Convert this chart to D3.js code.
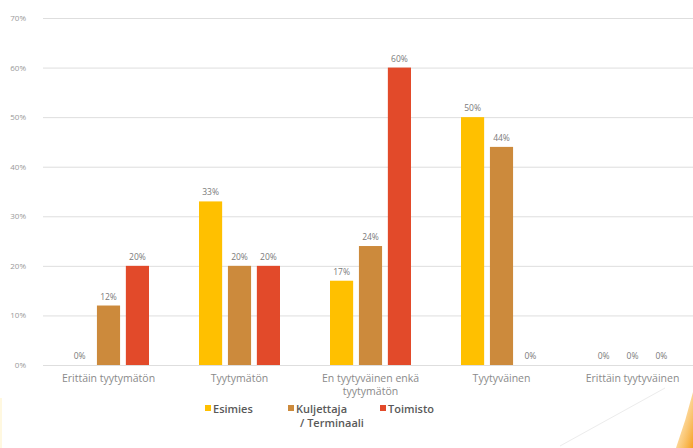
<!DOCTYPE html>
<html>
<head>
<meta charset="utf-8">
<script src="https://cdn.jsdelivr.net/npm/d3@7"></script>
<style>
  body { margin: 0; background: #fff; }
  text { font-family: "Open Sans", "Liberation Sans", sans-serif; }
</style>
</head>
<body>
<div id="chart"></div>
<script>
const categories = ["Erittäin tyytymätön", "Tyytymätön", "En tyytyväinen enkä tyytymätön", "Tyytyväinen", "Erittäin tyytyväinen"];
const seriesNames = ["Esimies", "Kuljettaja / Terminaali", "Toimisto"];
const esimies = [0, 33, 17, 50, 0];
const kuljettaja = [12, 20, 24, 44, 0];
const toimisto = [20, 20, 60, 0, 0];
const yTicks = [0, 10, 20, 30, 40, 50, 60, 70];

const colors = ["#FFC000", "#CC8A3C", "#E24A2A"];
const W = 693, H = 448;

const svg = d3.select("#chart").append("svg").attr("width", W).attr("height", H);

// corner decorations
const defs = svg.append("defs");
const grad = defs.append("linearGradient").attr("id", "og").attr("x1", "0").attr("y1", "0").attr("x2", "1").attr("y2", "1");
grad.append("stop").attr("offset", "0").attr("stop-color", "#ffd27a").attr("stop-opacity", 0.2);
grad.append("stop").attr("offset", "1").attr("stop-color", "#f5a020");
svg.append("path").attr("d", "M693,392 L693,448 L676,448 Q686,420 693,392 Z").attr("fill", "url(#og)");
svg.append("line").attr("x1", 560).attr("y1", 446).attr("x2", 665).attr("y2", 388)
  .attr("stroke", "#ececec").attr("stroke-width", 1);
svg.append("rect").attr("x", 0).attr("y", 398).attr("width", 2).attr("height", 50).attr("fill", "#fff8e0");

const x = d3.scaleBand().domain(categories).range([43, 698]);
const y = d3.scaleLinear().domain([0, 70]).range([365, 18]);
const x1 = d3.scaleBand().domain(seriesNames).range([25, 106]).paddingInner(0.2);

// gridlines
svg.append("g").selectAll("line").data(yTicks).enter().append("line")
  .attr("x1", 43).attr("x2", W)
  .attr("y1", d => y(d) + 0.5).attr("y2", d => y(d) + 0.5)
  .attr("stroke", "#dedede").attr("stroke-width", 1);

const yAxis = d3.axisLeft(y).tickValues(yTicks).tickFormat(d => d + "%").tickSize(0).tickPadding(0);
const ya = svg.append("g").attr("transform", "translate(26,0)").call(yAxis);
ya.select(".domain").remove();
ya.selectAll("text").attr("fill", "#999").style("font-size", "8px").style("font-family", "'Open Sans', sans-serif");

const rows = seriesNames.map((s, i) => ({ name: s, color: colors[i], values: [esimies, kuljettaja, toimisto][i] }));

const groups = svg.append("g").selectAll("g").data(categories).enter().append("g")
  .attr("transform", d => `translate(${x(d)},0)`);

groups.selectAll("rect").data((c, ci) => rows.map(r => ({ s: r.name, color: r.color, v: r.values[ci] })))
  .enter().append("rect")
  .attr("x", d => x1(d.s))
  .attr("width", x1.bandwidth())
  .attr("y", d => y(d.v))
  .attr("height", d => y(0) - y(d.v))
  .attr("fill", d => d.color);

groups.selectAll("text.val").data((c, ci) => rows.map(r => ({ s: r.name, v: r.values[ci] })))
  .enter().append("text").attr("class", "val")
  .attr("x", d => x1(d.s) + x1.bandwidth() / 2)
  .attr("y", d => y(d.v) - 6)
  .attr("text-anchor", "middle")
  .attr("fill", "#7a7a7a")
  .style("font-size", "8.5px")
  .text(d => d.v + "%");

// category labels with wrapping
const catLabels = svg.append("g").selectAll("text").data(categories).enter().append("text")
  .attr("x", d => x(d) + x.bandwidth() / 2)
  .attr("y", 382)
  .attr("text-anchor", "middle")
  .attr("fill", "#8a8a8a")
  .style("font-size", "10.5px");
catLabels.each(function (d) {
  const t = d3.select(this);
  const words = d.split(" ");
  let line = [], lines = [];
  words.forEach(w => {
    line.push(w);
    t.text(line.join(" "));
    if (this.getComputedTextLength() > 125 && line.length > 1) {
      line.pop(); lines.push(line.join(" ")); line = [w];
    }
  });
  lines.push(line.join(" "));
  t.text(null);
  lines.forEach((l, i) => t.append("tspan").attr("x", x(d) + x.bandwidth() / 2).attr("dy", i ? 13 : 0).text(l));
});

// legend
const legendX = [205, 288, 380];
const lg = svg.append("g").selectAll("g").data(rows).enter().append("g")
  .attr("transform", (d, i) => `translate(${legendX[i]},409)`);
lg.append("rect").attr("x", 0).attr("y", -4).attr("width", 6).attr("height", 6).attr("fill", d => d.color);
lg.append("text").attr("x", 8).attr("y", 0).attr("dy", "0.35em")
  .attr("fill", "#595959").style("font-size", "11px").style("font-weight", "600")
  .each(function (d) {
    const parts = d.name.split(" / ");
    const t = d3.select(this);
    t.append("tspan").attr("x", 8).text(parts[0]);
    if (parts[1]) t.append("tspan").attr("x", 12).attr("dy", 14).text("/ " + parts[1]);
  });
</script>
</body>
</html>
